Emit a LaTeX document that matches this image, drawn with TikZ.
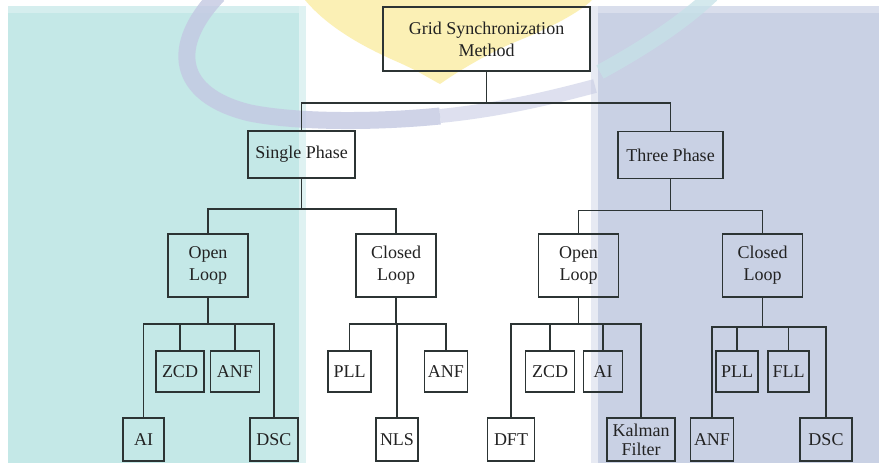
\documentclass[tikz,border=0pt]{standalone}
\usepackage{fontspec}
\setmainfont{Liberation Serif}
\usepackage{xcolor}
\usepackage{tikz}
\usetikzlibrary{positioning}

\definecolor{tealbg}{HTML}{C4E8E7}
\definecolor{lavbg}{HTML}{C9D1E4}
\definecolor{wmyellow}{HTML}{FBF0B5}
\definecolor{wmlav}{HTML}{C3C8E2}
\definecolor{wmteal}{HTML}{C6E2E8}
\definecolor{linegray}{HTML}{2C3434}
\definecolor{textgray}{HTML}{222222}

\begin{document}
\begin{tikzpicture}[
    x=1pt, y=-1pt,
    box/.style={rectangle, draw=linegray, line width=1.6pt, text=textgray, align=center, inner sep=1pt, font=\fontsize{18}{22}\selectfont},
    loopbox/.style={box, minimum width=80pt, minimum height=63pt},
    leaf/.style={box, minimum height=41pt},
    lowleaf/.style={box, minimum height=43pt},
    link/.style={draw=linegray, line width=1.6pt}
]
\useasboundingbox (0,0) rectangle (879,463);

% Background panels
\fill[white] (0,0) rectangle (879,463);
\fill[tealbg] (8,6) rectangle (299,463);
\fill[tealbg!55!white] (299,6) rectangle (306,463);
\fill[lavbg] (598,6) rectangle (879,463);
\fill[lavbg!45!white] (591,6) rectangle (598,463);
\fill[white, opacity=0.3] (8,6) rectangle (299,13);
\fill[white, opacity=0.3] (598,6) rectangle (879,13);

% Watermark
\fill[wmyellow] (305,0) .. controls (330,30) and (370,50) .. (400,63) .. controls (420,72) and (432,80) .. (440,84)
    .. controls (460,70) and (490,52) .. (520,40) .. controls (550,28) and (580,12) .. (592,0) -- cycle;
\draw[wmlav, line width=17pt, opacity=0.8] (218,-5) .. controls (170,45) and (175,95) .. (250,113) .. controls (300,123) and (380,122) .. (440,116);
\draw[wmlav, line width=14pt, opacity=0.55] (440,116) .. controls (500,110) and (550,98) .. (595,86);
\draw[wmteal, line width=15pt, opacity=0.75] (712,-5) .. controls (680,25) and (640,50) .. (600,72);

% Top levels
\node[box, minimum width=207pt, minimum height=64pt] (gsm) at (486.5,39) {Grid Synchronization\\Method};
\node[box, minimum width=107pt, minimum height=47pt] (single) at (301.5,154.5) {Single Phase};
\node[box, minimum width=105pt, minimum height=47pt] (three) at (670.5,155) {Three Phase};

% Loops
\node[loopbox] (ol1) at (208,265.5) {Open\\Loop};
\node[loopbox] (cl1) at (396,265.5) {Closed\\Loop};
\node[loopbox] (ol2) at (578.5,265.5) {Open\\Loop};
\node[loopbox] (cl2) at (762.5,265.5) {Closed\\Loop};

% Single phase, open loop
\node[lowleaf, minimum width=41pt] (ai1) at (143.5,439.5) {AI};
\node[leaf, minimum width=48pt] (zcd1) at (180,371.5) {ZCD};
\node[leaf, minimum width=49pt] (anf1) at (235,371.5) {ANF};
\node[lowleaf, minimum width=48pt] (dsc1) at (274,439.5) {DSC};

% Single phase, closed loop
\node[leaf, minimum width=43pt] (pll1) at (349.5,371.5) {PLL};
\node[lowleaf, minimum width=42pt] (nls) at (397,439.5) {NLS};
\node[leaf, minimum width=43pt] (anf2) at (446,371.5) {ANF};

% Three phase, open loop
\node[lowleaf, minimum width=47pt] (dft) at (511,439.5) {DFT};
\node[leaf, minimum width=49pt] (zcd2) at (550,371.5) {ZCD};
\node[leaf, minimum width=39pt] (ai2) at (603,371.5) {AI};
\node[lowleaf, minimum width=68pt, inner sep=0pt, font=\fontsize{18}{19}\selectfont] (kalman) at (641,439.5) {Kalman\\Filter};

% Three phase, closed loop
\node[lowleaf, minimum width=43pt] (anf3) at (712,439.5) {ANF};
\node[leaf, minimum width=42pt] (pll2) at (737,371.5) {PLL};
\node[leaf, minimum width=41pt] (fll) at (788.5,371.5) {FLL};
\node[lowleaf, minimum width=52pt] (dsc2) at (826,439.5) {DSC};

% Connectors
\draw[link] (gsm.south) -- ++(0,31) -| (single.north);
\draw[link] (gsm.south) -- ++(0,31) -| (three.north);

\draw[link] (single.south) -- ++(0,30) -| (ol1.north);
\draw[link] (single.south) -- ++(0,30) -| (cl1.north);
\draw[link] (three.south) -- ++(0,31) -| (ol2.north);
\draw[link] (three.south) -- ++(0,31) -| (cl2.north);

\draw[link] (ol1.south) -- ++(0,26) -| (ai1.north);
\draw[link] (ol1.south) -- ++(0,26) -| (zcd1.north);
\draw[link] (ol1.south) -- ++(0,26) -| (anf1.north);
\draw[link] (ol1.south) -- ++(0,26) -| (dsc1.north);

\draw[link] (cl1.south) -- ++(0,26) -| (pll1.north);
\draw[link] (cl1.south) -- ++(0,26) -| (nls.north);
\draw[link] (cl1.south) -- ++(0,26) -| (anf2.north);

\draw[link] (ol2.south) -- ++(0,26) -| (dft.north);
\draw[link] (ol2.south) -- ++(0,26) -| (zcd2.north);
\draw[link] (ol2.south) -- ++(0,26) -| (ai2.north);
\draw[link] (ol2.south) -- ++(0,26) -| (kalman.north);

\draw[link] (cl2.south) -- ++(0,29) -| (anf3.north);
\draw[link] (cl2.south) -- ++(0,29) -| (pll2.north);
\draw[link] (cl2.south) -- ++(0,29) -| (fll.north);
\draw[link] (cl2.south) -- ++(0,29) -| (dsc2.north);
\end{tikzpicture}
\end{document}
